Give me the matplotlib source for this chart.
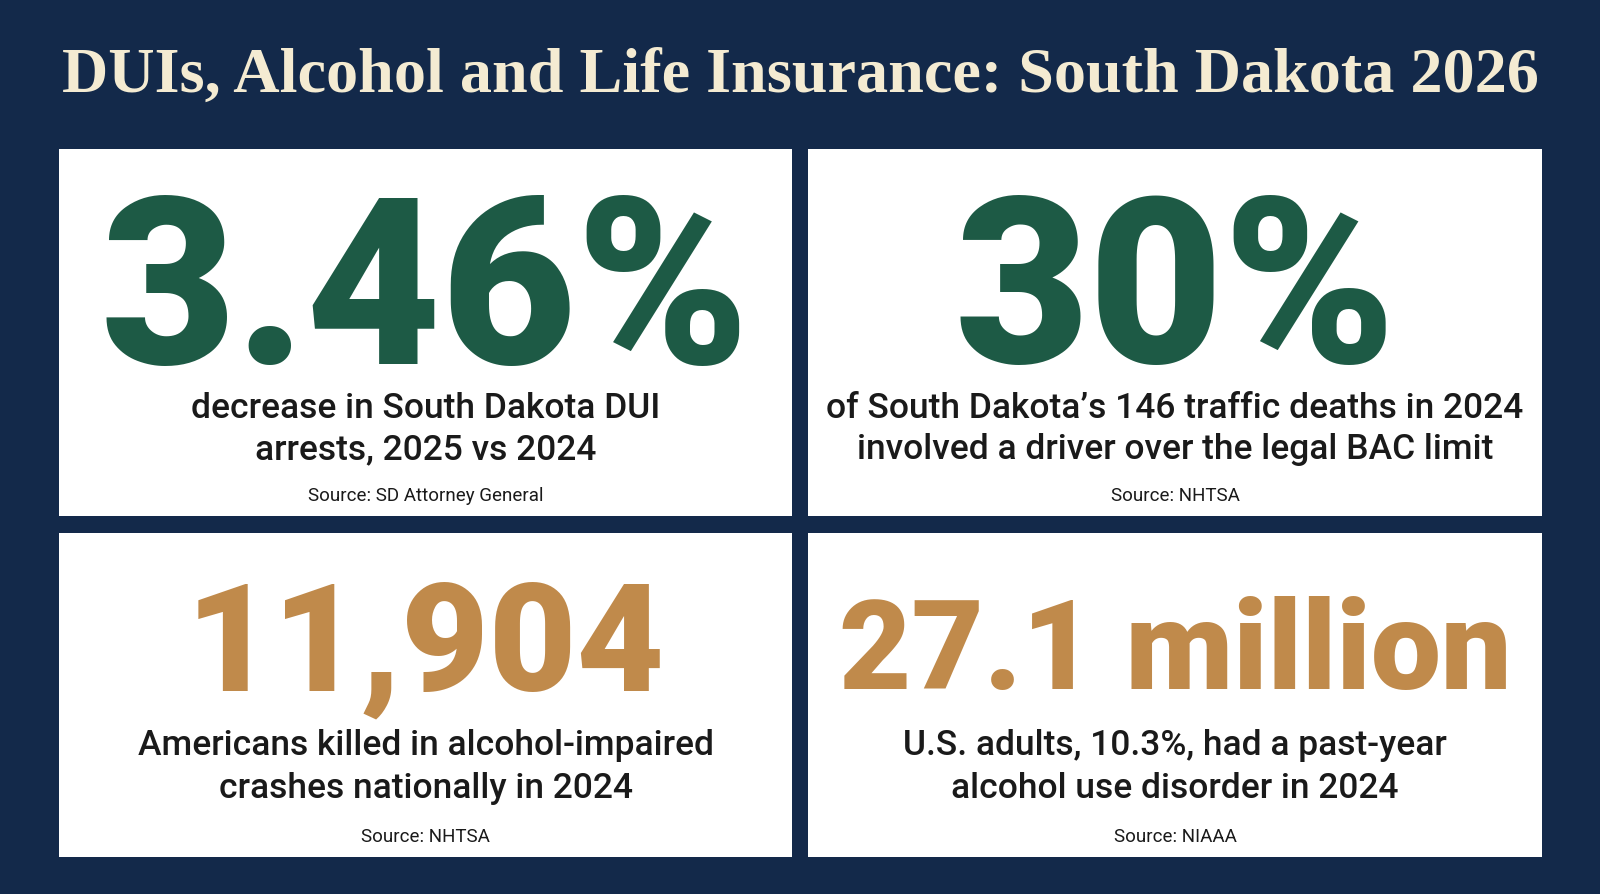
import matplotlib
matplotlib.use("Agg")
import matplotlib.pyplot as plt
from matplotlib.patches import Rectangle

title = "DUIs, Alcohol and Life Insurance: South Dakota 2026"
stats = ["3.46%", "30%", "11,904", "27.1 million"]
descs = ["decrease in South Dakota DUI\narrests, 2025 vs 2024",
         "of South Dakota\u2019s 146 traffic deaths in 2024\ninvolved a driver over the legal BAC limit",
         "Americans killed in alcohol-impaired\ncrashes nationally in 2024",
         "U.S. adults, 10.3%, had a past-year\nalcohol use disorder in 2024"]
sources = ["Source: SD Attorney General", "Source: NHTSA", "Source: NHTSA", "Source: NIAAA"]
stat_colors = ["#1d5a45", "#1d5a45", "#c08a4b", "#c08a4b"]

S = 1600 / 1568
W, H = 1600, 894
fig = plt.figure(figsize=(16, 8.94), dpi=100, facecolor="#13294a")
ax = fig.add_axes([0, 0, 1, 1])
ax.set_xlim(0, W / S); ax.set_ylim(H / S, 0); ax.axis("off")
fig.canvas.draw()
r = fig.canvas.get_renderer()

def fit(t, width):
    t.set_fontsize(50)
    w = t.get_window_extent(r).width
    t.set_fontsize(50 * width * S / w)

t = ax.text(784, 75, title, ha="center", va="center", color="#f4ebd2",
            family="Liberation Serif", fontweight="bold")
fit(t, 1448)

panels = [(58, 146, 718, 360), (792, 146, 719, 360), (58, 522, 718, 318), (792, 522, 719, 318)]
stat_y = [270, 270, 622, 630]
stat_w = [637, 433, 470, 660]
desc_y = [[400, 441], [400, 441], [731, 773], [731, 773]]
src_y = [486, 486, 820, 820]
for i, (x, y, w, h) in enumerate(panels):
    ax.add_patch(Rectangle((x, y), w, h, facecolor="white", edgecolor="none"))
    cx = x + w / 2
    t = ax.text(cx, stat_y[i], stats[i], ha="center", va="center_baseline",
                color=stat_colors[i], family="Roboto", fontweight="black")
    fit(t, stat_w[i])
    for j, line in enumerate(descs[i].split("\n")):
        ax.text(cx, desc_y[i][j], line, ha="center", va="center", color="#1a1a1a",
                family="Roboto", fontweight="medium", fontsize=25.5)
    ax.text(cx, src_y[i], sources[i], ha="center", va="center", color="#1a1a1a",
            family="Roboto", fontsize=13.5)

fig.savefig("out.png", dpi=100, facecolor=fig.get_facecolor())
